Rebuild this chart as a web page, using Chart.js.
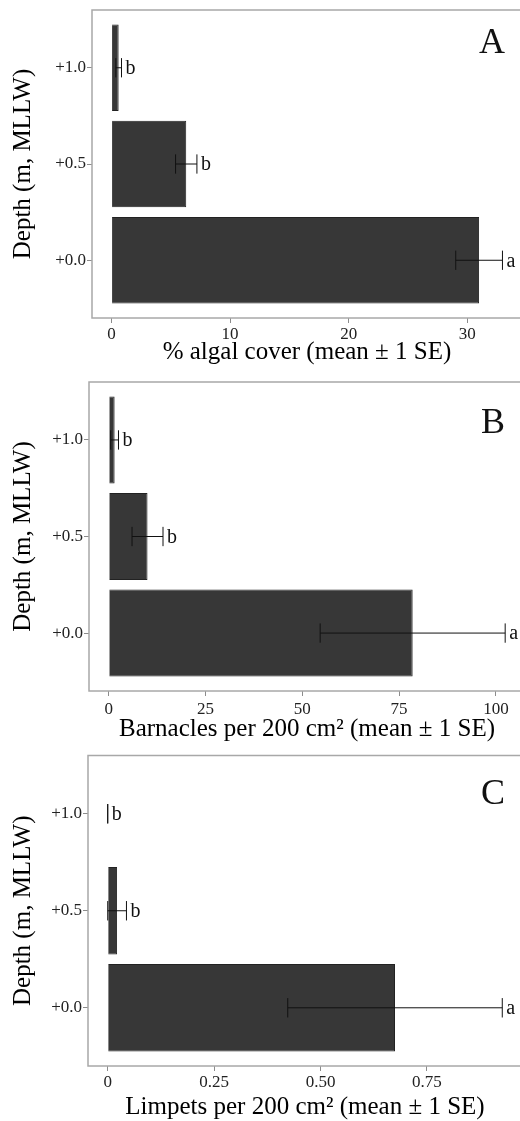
<!DOCTYPE html>
<html>
<head>
<meta charset="utf-8">
<script src="https://cdn.jsdelivr.net/npm/chart.js@4.4.1/dist/chart.umd.min.js"></script>
<style>
  body { margin: 0; width: 520px; height: 1121px; overflow: hidden; background: #fff; }
  canvas { position: absolute; left: 0; }
</style>
</head>
<body>
<canvas id="algae" width="530" height="372" style="top:0px"></canvas>
<canvas id="barnacles" width="530" height="374" style="top:372px"></canvas>
<canvas id="limpets" width="530" height="375" style="top:746px"></canvas>
<script>
// depth categories (top to bottom)
const depths = [1.0, 0.5, 0.0];
const depthLabels = ['+1.0', '+0.5', '+0.0'];

// A: algal cover
const algaeMean = [0.6, 6.3, 31.0];
const algaeSE = [0.24, 0.9, 1.97];
const algaeLetters = ['b', 'b', 'a'];
const algaeTicks = [0, 10, 20, 30];
const algaeTickLabels = ['0', '10', '20', '30'];

// B: barnacles
const barnMean = [1.5, 10.0, 78.5];
const barnSE = [1.0, 4.0, 23.9];
const barnLetters = ['b', 'b', 'a'];
const barnTicks = [0, 25, 50, 75, 100];
const barnTickLabels = ['0', '25', '50', '75', '100'];

// C: limpets
const limpMean = [0, 0.022, 0.675];
const limpSE = [0, 0.022, 0.252];
const limpLetters = ['b', 'b', 'a'];
const limpTicks = [0, 0.25, 0.5, 0.75];
const limpTickLabels = ['0', '0.25', '0.50', '0.75'];

const serif = '"Liberation Serif", "Times New Roman", serif';

// frame, error bars, group letters and panel letter
const errorBars = {
    id: 'errorBars',
    afterDatasetsDraw(chart, args, opts) {
        const {ctx, chartArea: a, scales: {x, y}} = chart;
        const pts = chart.data.datasets[0].data;
        const cap = Math.abs(y.getPixelForValue(depths[0]) - y.getPixelForValue(depths[1])) * 0.1;
        ctx.save();
        ctx.strokeStyle = '#a8a8a8';
        ctx.lineWidth = 1.5;
        ctx.strokeRect(a.left, a.top, a.right - a.left, a.bottom - a.top);

        ctx.strokeStyle = '#111';
        ctx.lineWidth = 1;
        ctx.fillStyle = '#111';
        ctx.font = '20px ' + serif;
        ctx.textBaseline = 'middle';
        pts.forEach((p, i) => {
            const py = y.getPixelForValue(p.y);
            const lo = x.getPixelForValue(p.x - opts.se[i]);
            const hi = x.getPixelForValue(p.x + opts.se[i]);
            ctx.beginPath();
            ctx.moveTo(lo, py); ctx.lineTo(hi, py);
            ctx.moveTo(lo, py - cap); ctx.lineTo(lo, py + cap);
            ctx.moveTo(hi, py - cap); ctx.lineTo(hi, py + cap);
            ctx.stroke();
            ctx.fillText(opts.letters[i], hi + 4, py + 1);
        });

        ctx.font = '36px ' + serif;
        ctx.textAlign = 'right';
        ctx.textBaseline = 'alphabetic';
        ctx.fillText(opts.panel, 505, opts.panelY);
        ctx.restore();
    }
};

function drawPanel(id, p) {
    const canvas = document.getElementById(id);
    const hi = Math.max(...p.mean.map((m, i) => m + p.se[i]));
    const pad = hi * 0.05;
    new Chart(canvas, {
        type: 'bar',
        data: {
            datasets: [{
                data: depths.map((d, i) => ({x: p.mean[i], y: d})),
                backgroundColor: '#373737',
                borderColor: '#222',
                borderWidth: 1,
                barPercentage: 0.9,
                categoryPercentage: 1
            }]
        },
        options: {
            indexAxis: 'y',
            responsive: false,
            animation: false,
            layout: {
                padding: {top: p.top, right: canvas.width - p.right, bottom: 0, left: 0}
            },
            scales: {
                x: {
                    type: 'linear',
                    min: -pad,
                    max: hi + pad,
                    offset: false,
                    afterFit: s => { s.height = canvas.height - p.bottom; },
                    afterBuildTicks: s => { s.ticks = p.ticks.map(v => ({value: v})); },
                    ticks: {
                        callback: (v, i) => p.tickLabels[i],
                        font: {family: serif, size: 17, lineHeight: 1},
                        color: '#222',
                        padding: p.tickPad,
                        maxRotation: 0,
                        autoSkip: false
                    },
                    grid: {drawOnChartArea: false, tickLength: 5, color: '#8c8c8c', offset: false},
                    border: {display: false},
                    title: {
                        display: true,
                        text: p.title,
                        color: '#000',
                        font: {family: serif, size: 25, lineHeight: 1},
                        padding: {top: 0, bottom: p.titlePad}
                    }
                },
                y: {
                    type: 'linear',
                    min: -0.3,
                    max: 1.3,
                    offset: false,
                    afterFit: s => { s.width = p.left; },
                    afterBuildTicks: s => { s.ticks = depths.map(v => ({value: v})); },
                    ticks: {
                        callback: (v, i) => depthLabels[i],
                        font: {family: serif, size: 17, lineHeight: 1},
                        color: '#222',
                        padding: 1,
                        autoSkip: false
                    },
                    grid: {drawOnChartArea: false, tickLength: 5, color: '#8c8c8c', offset: false},
                    border: {display: false},
                    title: {
                        display: true,
                        text: 'Depth (m, MLLW)',
                        color: '#000',
                        font: {family: serif, size: 25, lineHeight: 1},
                        padding: {top: 11, bottom: 0}
                    }
                }
            },
            plugins: {
                legend: {display: false},
                tooltip: {enabled: false},
                errorBars: {se: p.se, letters: p.letters, panel: p.panel, panelY: p.panelY}
            }
        },
        plugins: [errorBars]
    });
}

drawPanel('algae', {
    mean: algaeMean, se: algaeSE, letters: algaeLetters,
    ticks: algaeTicks, tickLabels: algaeTickLabels,
    title: '% algal cover (mean \u00b1 1 SE)', panel: 'A',
    top: 10, bottom: 318, left: 92, right: 522, tickPad: 3, titlePad: 7.5, panelY: 53
});
drawPanel('barnacles', {
    mean: barnMean, se: barnSE, letters: barnLetters,
    ticks: barnTicks, tickLabels: barnTickLabels,
    title: 'Barnacles per 200 cm\u00b2 (mean \u00b1 1 SE)', panel: 'B',
    top: 10, bottom: 319, left: 89, right: 525, tickPad: 5, titlePad: 4.5, panelY: 61
});
drawPanel('limpets', {
    mean: limpMean, se: limpSE, letters: limpLetters,
    ticks: limpTicks, tickLabels: limpTickLabels,
    title: 'Limpets per 200 cm\u00b2 (mean \u00b1 1 SE)', panel: 'C',
    top: 8, bottom: 320, left: 88, right: 522, tickPad: 3, titlePad: 1.5, panelY: 58
});
</script>
</body>
</html>
